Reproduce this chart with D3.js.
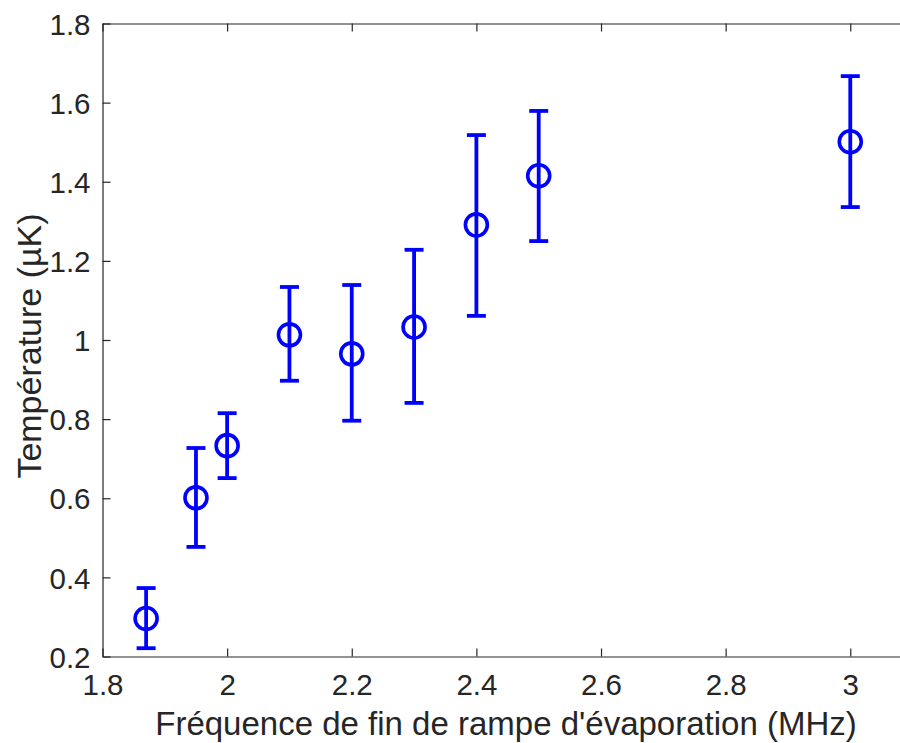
<!DOCTYPE html>
<html>
<head>
<meta charset="utf-8">
<script src="https://cdn.jsdelivr.net/npm/d3@7"></script>
<style>
  body { margin: 0; background: #fff; }
  svg { display: block; font-family: "Liberation Sans", Arial, sans-serif; }
</style>
</head>
<body>
<svg id="chart" width="900" height="743"></svg>
<script>
// frequency (MHz), temperature (µK) and error bar ends
var freq  = [1.87, 1.95, 2.0, 2.1, 2.2, 2.3, 2.4, 2.5, 3.0];
var temp  = [0.296, 0.601, 0.733, 1.013, 0.965, 1.033, 1.291, 1.415, 1.501];
var upper = [0.373, 0.727, 0.815, 1.134, 1.139, 1.228, 1.518, 1.579, 1.667];
var lower = [0.221, 0.477, 0.651, 0.897, 0.796, 0.841, 1.061, 1.250, 1.336];

var xTicks = [1.8, 2, 2.2, 2.4, 2.6, 2.8, 3];
var yTicks = [0.2, 0.4, 0.6, 0.8, 1, 1.2, 1.4, 1.6, 1.8];

var svg = d3.select("#chart");
var mLeft = 102.5, mRight = 902, mTop = 23.5, mBottom = 656.5;
var axisColor = "#262626", blue = "#0000ff";

var x = d3.scaleLinear().domain([1.8, 3.083]).range([mLeft, mRight]);
var y = d3.scaleLinear().domain([0.2, 1.8]).range([mBottom, mTop]);

var data = freq.map(function(f, i) {
  return {x: f, y: temp[i], hi: upper[i], lo: lower[i]};
});

// axes box
var gx = svg.append("g")
  .attr("transform", "translate(0," + mBottom + ")")
  .call(d3.axisBottom(x).tickValues(xTicks).tickSizeInner(-8).tickSizeOuter(0)
    .tickPadding(18).tickFormat(d3.format("~g")));
var gy = svg.append("g")
  .attr("transform", "translate(" + mLeft + ",0)")
  .call(d3.axisLeft(y).tickValues(yTicks).tickSizeInner(-8).tickSizeOuter(0)
    .tickPadding(12).tickFormat(d3.format("~g")));
var gxTop = svg.append("g")
  .attr("transform", "translate(0," + mTop + ")")
  .call(d3.axisTop(x).tickValues(xTicks).tickSizeInner(-8).tickSizeOuter(0).tickFormat(""));

[gx, gy, gxTop].forEach(function(g) {
  g.selectAll("path").attr("stroke", axisColor).attr("stroke-width", 1.2);
  g.selectAll("line").attr("stroke", axisColor).attr("stroke-width", 1.2);
  g.selectAll("text").attr("fill", axisColor).style("font-size", "29.5px")
    .style("font-family", "'Liberation Sans', Arial, sans-serif");
});
gx.selectAll("text").attr("dy", "0.71em");
gy.selectAll("text").attr("dy", "0.36em");

// error bars
var bars = svg.append("g").attr("stroke", blue).attr("stroke-width", 3.8).attr("fill", "none");
bars.selectAll(".stem").data(data).enter().append("line")
  .attr("x1", function(d) { return x(d.x); }).attr("x2", function(d) { return x(d.x); })
  .attr("y1", function(d) { return y(d.hi); }).attr("y2", function(d) { return y(d.lo); });
bars.selectAll(".capHi").data(data).enter().append("line")
  .attr("x1", function(d) { return x(d.x) - 9.5; }).attr("x2", function(d) { return x(d.x) + 9.5; })
  .attr("y1", function(d) { return y(d.hi); }).attr("y2", function(d) { return y(d.hi); });
bars.selectAll(".capLo").data(data).enter().append("line")
  .attr("x1", function(d) { return x(d.x) - 9.5; }).attr("x2", function(d) { return x(d.x) + 9.5; })
  .attr("y1", function(d) { return y(d.lo); }).attr("y2", function(d) { return y(d.lo); });

// markers
svg.append("g").selectAll("circle").data(data).enter().append("circle")
  .attr("cx", function(d) { return x(d.x); })
  .attr("cy", function(d) { return y(d.y); })
  .attr("r", 11)
  .attr("fill", "none")
  .attr("stroke", blue)
  .attr("stroke-width", 3.6);

// axis titles
svg.append("text")
  .attr("x", 506).attr("y", 735)
  .attr("text-anchor", "middle").attr("fill", axisColor)
  .style("font-size", "33px")
  .text("Fréquence de fin de rampe d'évaporation (MHz)");
svg.append("text")
  .attr("transform", "translate(41,346) rotate(-90)")
  .attr("text-anchor", "middle").attr("fill", axisColor)
  .style("font-size", "34px")
  .text("Température (µK)");
</script>
</body>
</html>
